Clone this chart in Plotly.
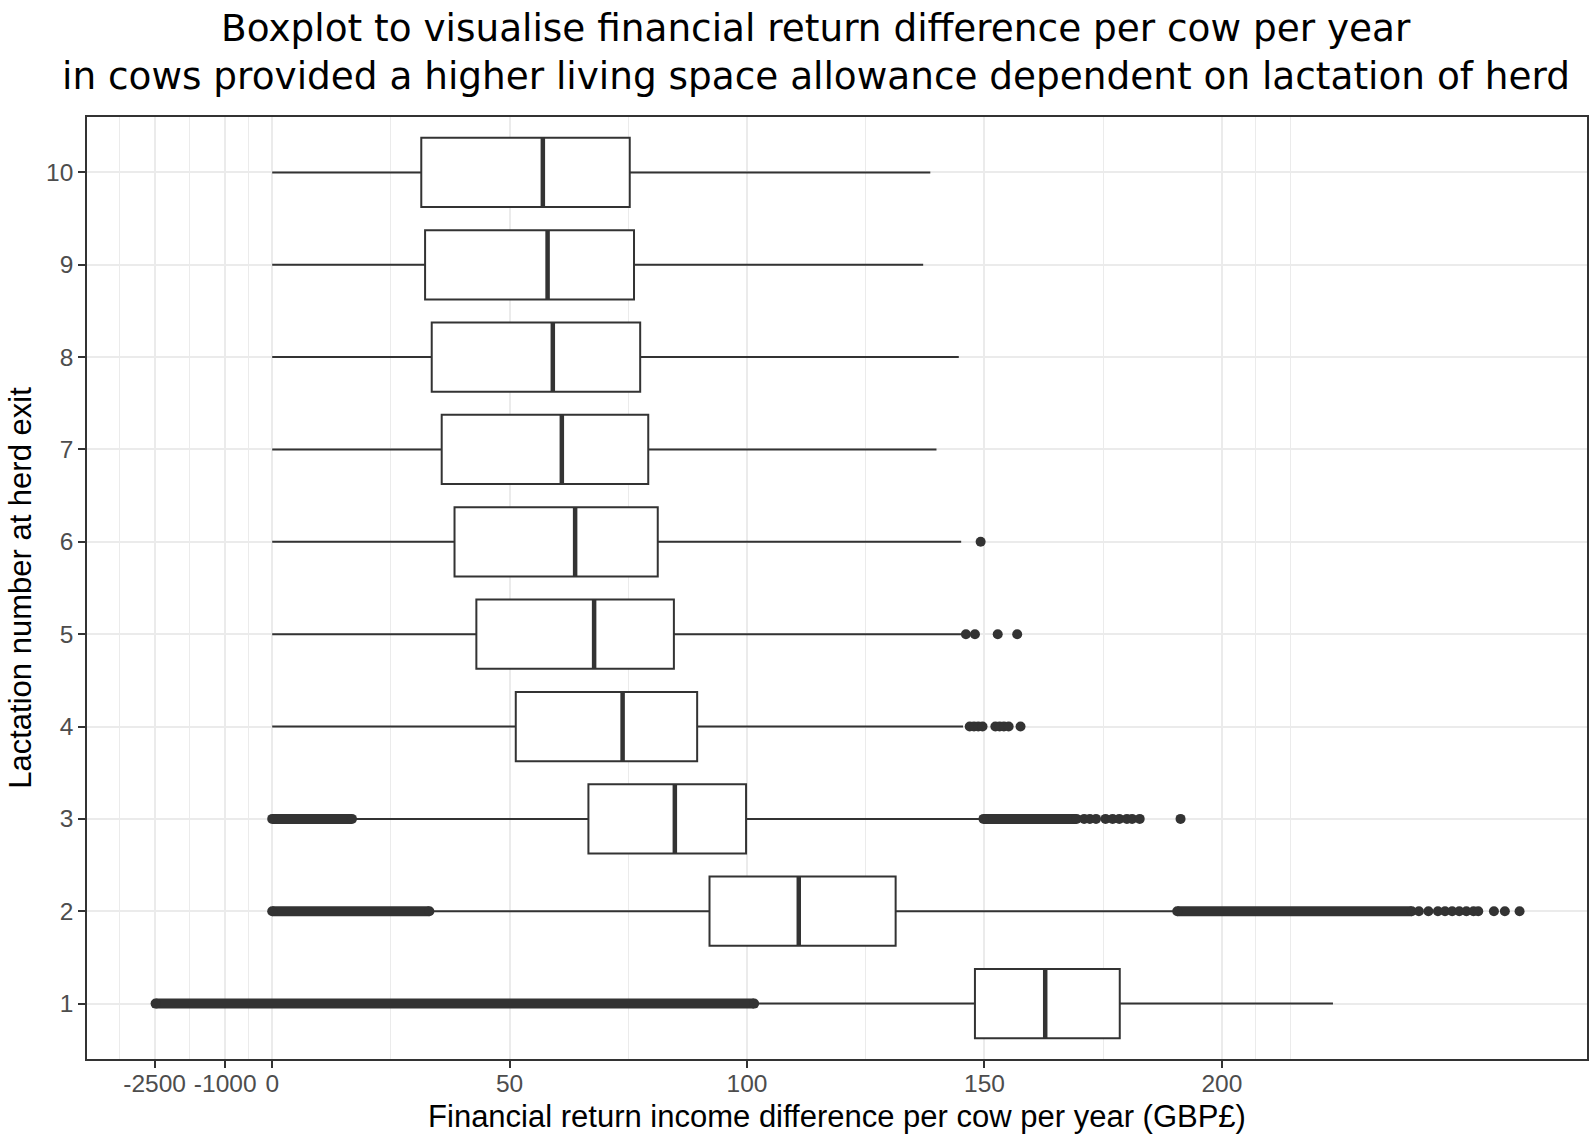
import plotly.graph_objects as go

# ---------------- data (GBP per cow per year) ----------------
lactation = [1, 2, 3, 4, 5, 6, 7, 8, 9, 10]
q1 = [148.0, 92.1, 66.6, 51.3, 43.0, 38.4, 35.7, 33.6, 32.2, 31.4]
median = [162.8, 110.9, 84.8, 73.8, 67.8, 63.8, 61.0, 59.1, 58.0, 57.0]
q3 = [178.5, 131.3, 99.8, 89.5, 84.6, 81.2, 79.2, 77.5, 76.2, 75.3]
lower_whisker = [102.3, 34.0, 17.6, 0, 0, 0, 0, 0, 0, 0]
upper_whisker = [223.4, 189.8, 148.9, 145.5, 145.5, 145.1, 139.9, 144.6, 137.1, 138.6]

# dense runs of overlapping outliers (drawn as solid runs)
band_lactation = [1, 2, 2, 3, 3]
band_start = [-2480, 0, 190.6, 0, 149.8]
band_end = [101.5, 33.1, 240.0, 16.8, 169.4]

# separate outliers
outlier_lactation = ([2] * 12 + [3] * 10 + [4] * 9 + [5] * 4 + [6])
outlier_value = [241.5, 243.5, 245.5, 247.0, 248.5, 250.0, 251.5, 253.0, 254.0, 257.3, 259.6, 262.7,
                 171.0, 172.2, 173.5, 175.5, 177.0, 178.4, 180.0, 181.1, 182.7, 191.3,
                 146.9, 147.8, 148.7, 149.6, 152.3, 153.2, 154.1, 155.1, 157.6,
                 146.1, 148.0, 152.8, 156.9,
                 149.2]

x_tick_values = [-2500, -1000, 0, 50, 100, 150, 200]
x_tick_labels = ["-2500", "-1000", "0", "50", "100", "150", "200"]
x_minor_values = [-3250, -1750, -500, 25, 75, 125, 175, 207, 214.5]
y_tick_labels = [str(v) for v in lactation]

title_lines = ["Boxplot to visualise financial return difference per cow per year",
               "in cows provided a higher living space allowance dependent on lactation of herd"]
x_title = "Financial return income difference per cow per year (GBP£)"
y_title = "Lactation number at herd exit"


# axis transform: negative values compressed by a factor of ~100
def tr(v):
    if v is None:
        return None
    return v if v >= 0 else v / 101.0


def trl(vals):
    return [tr(v) for v in vals]


DARK = "#333333"
BOX_W = 0.75

fig = go.Figure()

# dense outlier runs
for lac, s, e in zip(band_lactation, band_start, band_end):
    fig.add_trace(go.Scatter(
        x=[tr(s), tr(e)], y=[lac, lac], mode="lines+markers",
        line=dict(color=DARK, width=10),
        marker=dict(color=DARK, size=10),
        showlegend=False, hoverinfo="skip"))

# single outliers
fig.add_trace(go.Scatter(
    x=trl(outlier_value), y=outlier_lactation, mode="markers",
    marker=dict(color=DARK, size=10, line=dict(width=0)),
    showlegend=False, hoverinfo="skip"))

# boxes
fig.add_trace(go.Box(
    y=lactation, q1=trl(q1), median=trl(median), q3=trl(q3),
    lowerfence=trl(lower_whisker), upperfence=trl(upper_whisker),
    orientation="h", width=BOX_W, whiskerwidth=0,
    fillcolor="white", line=dict(color=DARK, width=2),
    boxpoints=False, showlegend=False, hoverinfo="skip"))

# thick median bars
mx, my = [], []
for lac, m in zip(lactation, median):
    mx += [tr(m), tr(m), None]
    my += [lac - BOX_W / 2, lac + BOX_W / 2, None]
fig.add_trace(go.Scatter(x=mx, y=my, mode="lines",
                         line=dict(color=DARK, width=4.5),
                         showlegend=False, hoverinfo="skip"))

tick_font = dict(family="Liberation Sans, Arial, sans-serif", size=24.5, color="#4d4d4d")
title_font = dict(family="Liberation Sans, Arial, sans-serif", size=31, color="black")

fig.update_layout(
    width=1595, height=1148,
    margin=dict(l=87.3, r=8.3, t=116.7, b=89, autoexpand=False),
    paper_bgcolor="white", plot_bgcolor="white",
    xaxis=dict(
        range=[-39.0, 276.9], tickmode="array",
        tickvals=trl(x_tick_values), ticktext=x_tick_labels,
        ticks="outside", ticklen=7, tickwidth=1.6, tickcolor=DARK,
        ticklabelstandoff=-5,
        tickfont=tick_font, showgrid=True, gridcolor="#ebebeb", gridwidth=1.8,
        minor=dict(tickmode="array", tickvals=trl(x_minor_values), showgrid=True,
                   gridcolor="#ebebeb", gridwidth=1.0, ticks=""),
        zeroline=False, showline=True, mirror=True, linecolor=DARK, linewidth=1.6,
        title=dict(text=x_title, font=title_font, standoff=9),
    ),
    yaxis=dict(
        range=[0.4, 10.6], tickmode="array", tickvals=lactation, ticktext=y_tick_labels,
        ticks="outside", ticklen=7, tickwidth=1.6, tickcolor=DARK,
        tickfont=tick_font, showgrid=True, gridcolor="#ebebeb", gridwidth=1.8,
        zeroline=False, showline=True, mirror=True, linecolor=DARK, linewidth=1.6,
        title=dict(text=y_title, font=title_font, standoff=5),
    ),
)

title_x = (816.5 - 87.3) / 1499.4
for txt, shift in zip(title_lines, [89.4, 41.5]):
    fig.add_annotation(text=txt, xref="paper", yref="paper", x=title_x, y=1,
                       xanchor="center", yanchor="middle", yshift=shift, showarrow=False,
                       font=dict(family="DejaVu Sans, Verdana, sans-serif", size=37.4, color="black"))

fig.write_html("out.html", config={"displayModeBar": False},
               post_script="document.body.style.margin='0';document.body.style.overflow='hidden';")
